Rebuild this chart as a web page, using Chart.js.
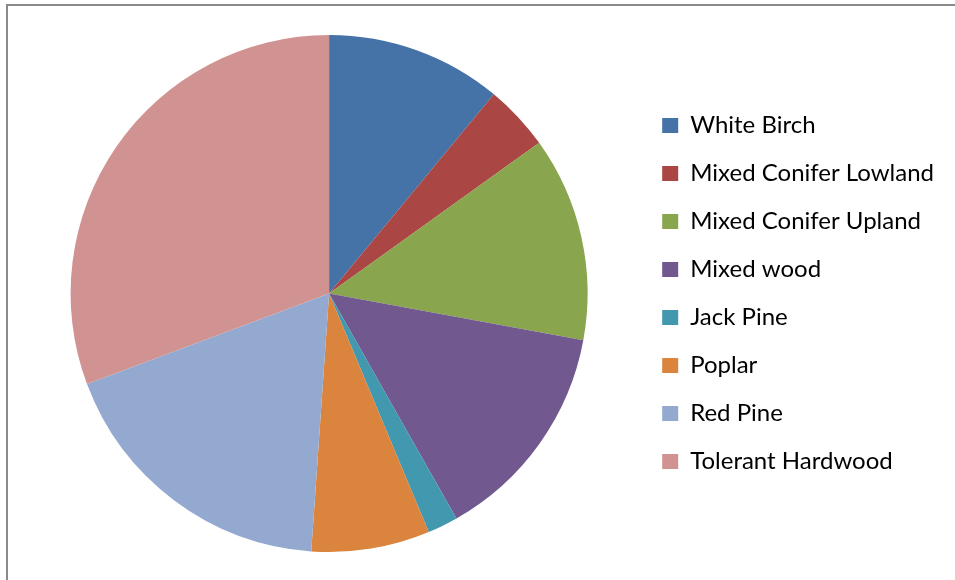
<!DOCTYPE html>
<html>
<head>
<meta charset="utf-8">
<script src="https://cdn.jsdelivr.net/npm/chart.js@4"></script>
<style>
  html, body { margin: 0; padding: 0; background: #fff; overflow: hidden; }
  #frame {
    position: absolute; left: 6px; top: 4px; width: 1000px; height: 1000px;
    border-top: 2px solid #8a8a8a; border-left: 2px solid #8a8a8a;
  }
  #chart { position: absolute; left: 0; top: 0; }
</style>
</head>
<body>
<div id="frame"></div>
<canvas id="chart" width="955" height="580"></canvas>
<script>
// forest cover types, share of area (%)
const categories = [
  'White Birch', 'Mixed Conifer Lowland', 'Mixed Conifer Upland', 'Mixed wood',
  'Jack Pine', 'Poplar', 'Red Pine', 'Tolerant Hardwood'
];
const shares = [11.0, 4.1, 12.8, 13.9, 1.9, 7.4, 18.2, 30.7];

// Office 2007 default series colours
const colors = [
  '#4572A7', '#AA4643', '#89A54E', '#71588F',
  '#4198AF', '#DB843D', '#93A9CF', '#D19392'
];

new Chart(document.getElementById('chart'), {
  type: 'pie',
  data: {
    labels: categories,
    datasets: [{ data: shares, backgroundColor: colors, borderWidth: 0 }]
  },
  options: {
    responsive: false,
    animation: false,
    devicePixelRatio: 1,
    layout: { padding: { top: 35, bottom: 28, left: 20, right: 11 } },
    plugins: {
      legend: {
        position: 'right',
        labels: {
          boxWidth: 16, boxHeight: 15, padding: 24,
          color: '#000',
          font: { family: 'Lato', size: 24 }
        }
      },
      tooltip: { enabled: false }
    }
  }
});
</script>
</body>
</html>
